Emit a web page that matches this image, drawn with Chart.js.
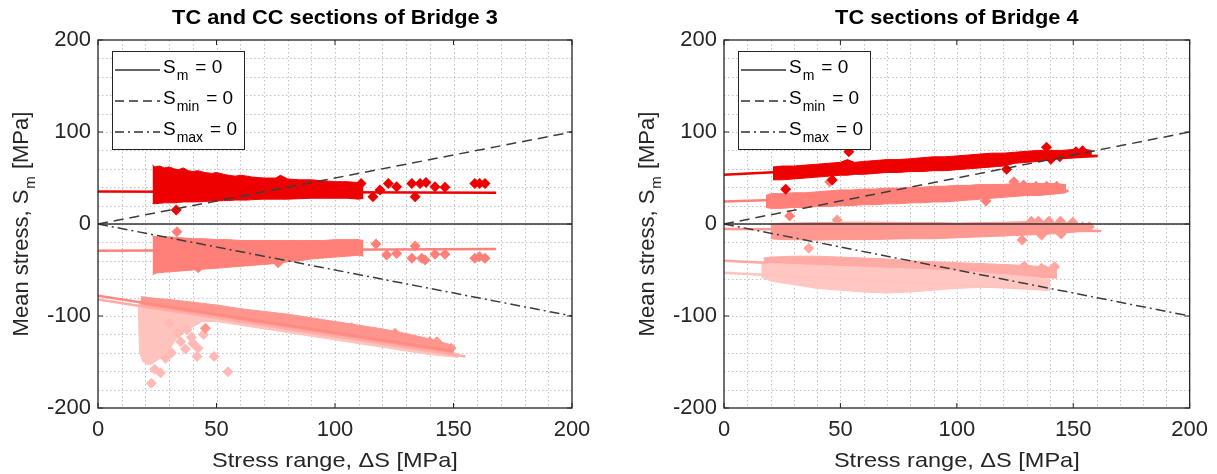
<!DOCTYPE html>
<html><head><meta charset="utf-8">
<script src="https://cdn.jsdelivr.net/npm/chart.js@4"></script>
<style>
html,body{margin:0;padding:0;background:#fff;}
#wrap{position:relative;width:1217px;height:474px;overflow:hidden;background:#fff;}
canvas{position:absolute;top:0;}
</style></head><body>
<div id="wrap">
<canvas id="c1" width="600" height="474" style="left:0px"></canvas>
<canvas id="c2" width="607" height="474" style="left:610px"></canvas>
</div>
<script>
// ---------------- texts & ticks ----------------
const titleB3 = 'TC and CC sections of Bridge 3';
const titleB4 = 'TC sections of Bridge 4';
const xTitle = 'Stress range, \u0394S [MPa]';
const yTitleMain = 'Mean stress, S';
const yTitleSub = 'm';
const yTitleRest = ' [MPa]';
const xTickValues = [0, 50, 100, 150, 200];
const yTickValues = [-200, -100, 0, 100, 200];
const legendMain = ['S', 'S', 'S'];
const legendSub = ['m', 'min', 'max'];
const legendRest = ['= 0', '= 0', '= 0'];

// ---------------- reference lines ----------------
const refX = [0, 200];
const smZeroY = [0, 0];
const sminZeroY = [0, 100];
const smaxZeroY = [0, -100];

// ---------------- Bridge 3 ----------------
// TC (red) scatter band
const b3Tc_x  = [23, 24, 26, 28, 30, 32, 34, 36, 38, 40, 42, 45, 48, 50, 53, 55, 58, 60, 63, 65, 70, 75, 77, 80, 85, 90, 95, 100, 105, 110, 112];
const b3Tc_hi = [64, 62, 63, 61, 62, 60, 59, 61, 58, 57, 58, 56, 55, 56, 54, 53, 52, 53, 52, 51, 50, 50, 53, 49, 48, 48, 47, 46, 46, 45, 43];
const b3Tc_lo = [22, 22, 22.5, 23, 23, 23, 23.5, 24, 24, 24, 24, 24.5, 25, 25, 25.5, 25.5, 26, 26, 26, 26.5, 27, 27, 27, 27, 27.5, 28, 28, 28, 28, 27, 28];
const b3TcFitX = [0, 168];
const b3TcFitY = [35.3, 34];
const b3TcOutX = [33, 111, 116, 119, 122.5, 126, 132.4, 133.8, 135.9, 138.4, 142.2, 146.4, 159, 161, 163.3];
const b3TcOutY = [15.2, 44, 29.7, 37, 44, 40.6, 44, 29.7, 44, 45, 40.6, 40, 44, 44, 44];
// CC (salmon) scatter band
const b3Cc_x  = [23, 25, 30, 35, 40, 45, 50, 55, 60, 65, 70, 75, 80, 85, 90, 95, 100, 105, 110, 112];
const b3Cc_hi = [-13, -14, -14, -15, -16, -16, -17, -17, -18, -18, -18, -18, -18, -18, -18, -18, -17, -17, -17, -18];
const b3Cc_lo = [-55, -53, -52, -51, -50, -49, -48, -47, -46, -45, -44, -43, -41, -40, -38, -37, -36, -35, -34, -35];
const b3CcFitX = [0, 168];
const b3CcFitY = [-29, -27.2];
const b3CcOutX = [33.3, 42.3, 76, 117.3, 121.8, 126, 132.4, 133.8, 136.6, 138, 142.2, 146.4, 159, 161, 163.3];
const b3CcOutY = [-8.3, -47.5, -42, -21.7, -33.7, -32, -37.3, -24, -37.3, -39, -33, -33, -37.3, -35.5, -37.3];
// lower sloping groups
const b3C_x  = [18, 25, 30, 40, 50, 60, 70, 80, 90, 100, 110, 120, 130, 140, 150];
const b3C_hi = [-79, -81, -82, -85, -88, -92, -95, -98, -102, -106, -110, -114, -119, -125, -132];
const b3C_lo = [-88, -91, -93, -97, -101, -105, -109, -113, -117, -121, -125, -129, -133, -137, -141];
const b3C1FitX = [0, 150];
const b3C1FitY = [-78, -138];
const b3D_x  = [17, 17.5, 19, 21, 23, 25, 27, 29, 31, 33, 36, 40, 44, 50, 60, 70, 80, 90, 100, 110, 120, 130, 140, 152];
const b3D_hi = [-84, -84, -83, -84, -85, -85, -86, -86, -87, -88, -89, -90, -92, -95, -99, -103, -107, -111, -115, -119, -123, -128, -133, -141];
const b3D_lo = [-88, -140, -150, -153, -152, -148, -145, -140, -133, -125, -118, -112, -106, -106, -110, -114, -118, -122, -126, -130, -134, -138, -142, -145];
const b3D1FitX = [0, 155];
const b3D1FitY = [-82, -144];
const b3LowOutX = [22.5, 26.4, 23.9, 54.8, 49, 36.9, 41.8, 42.2, 40, 39.4, 34.9, 30.2, 33.8, 28.5, 31, 37.5, 44.5];
const b3LowOutY = [-173, -161.6, -158, -160.5, -144, -136, -144, -135, -129.7, -123, -128, -108, -118.8, -146, -140, -115, -120];
const b3PeakOutX = [45.3, 97.2, 107, 124.9, 125.3, 131, 140, 143, 149];
const b3PeakOutY = [-113.4, -111, -112.7, -121, -118.8, -126, -128, -128, -135];

// ---------------- Bridge 4 ----------------
const b4A_x  = [21, 25, 30, 35, 40, 45, 50, 53, 56, 60, 65, 70, 75, 80, 85, 90, 95, 100, 105, 110, 115, 120, 125, 130, 135, 140, 145, 150, 155, 158];
const b4A_hi = [62, 63, 63, 64, 65, 66, 67, 70, 67, 68, 69, 70, 70, 71, 72, 73, 73, 74, 75, 76, 77, 77, 78, 79, 80, 80, 80, 81, 81, 80];
const b4A_lo = [48, 48, 49, 50, 51, 52, 53, 53, 54, 54, 55, 56, 56, 57, 57, 58, 58, 59, 60, 61, 62, 63, 66, 67, 68, 70, 71, 72, 73, 74];
const b4AFitX = [0, 160.5];
const b4AFitY = [53.5, 74];
const b4AOutX = [53.6, 26.5, 46.5, 121.4, 138.5, 140.4, 144.2, 151.2, 154];
const b4AOutY = [78.6, 37.7, 47.8, 59.4, 83.3, 70.3, 73, 78.6, 79.7];

const b4B_x  = [18, 20, 25, 30, 35, 40, 45, 50, 55, 60, 65, 70, 75, 80, 85, 90, 95, 100, 105, 110, 115, 120, 125, 130, 135, 140, 147];
const b4B_hi = [31, 33, 33, 34, 34, 35, 36, 37, 37, 38, 38, 39, 39, 40, 40, 41, 41, 42, 42, 43, 43, 43, 44, 44, 44, 44, 43];
const b4B_lo = [18, 17, 17, 18, 18, 19, 19, 20, 20, 21, 21, 22, 22, 23, 23, 24, 24, 25, 26, 27, 28, 29, 30, 31, 31, 32, 34];
const b4BFitX = [0, 148];
const b4BFitY = [24.5, 36];
const b4BOutX = [28.2, 45.4, 124.5, 112.5, 128.7, 134, 138.6, 142.9];
const b4BOutY = [8.7, 46, 46, 25, 42.4, 41, 41, 41];

const b4C_x  = [20, 25, 30, 40, 50, 60, 70, 80, 90, 100, 110, 120, 130, 140, 150, 157];
const b4C_hi = [0, 1, 1, 1.5, 2, 2, 2, 1.5, 1.5, 1, 1.5, 2, 2.5, 2, 1, 0];
const b4C_lo = [-16, -17, -17, -17.5, -17, -17, -16.5, -16, -16, -15, -14, -13, -12, -11, -9, -7];
const b4CFitX = [0, 162];
const b4CFitY = [-5.4, -7.6];
const b4COutX = [48.6, 128, 132, 135, 139.5, 144.5, 149.8, 136.4, 144.8, 156.9, 154];
const b4COutY = [4.3, -17.4, 3, 3, 3, 3, 2, -12, -11, -2.9, -3];

const b4D_x  = [17, 20, 30, 40, 50, 60, 70, 80, 90, 100, 110, 120, 130, 140, 143];
const b4D_hi = [-37, -36, -35, -35, -36, -37, -38, -40, -41, -42, -43, -44, -45, -47, -50];
const b4D_lo = [-48, -49, -50, -51, -52, -53, -54, -55, -55, -56, -56, -57, -57, -58, -58];
const b4DFitX = [0, 143];
const b4DFitY = [-40, -58];
const b4DOutX = [36.4, 129, 137.8, 142, 136.4];
const b4DOutY = [-26.4, -45.6, -50, -46.4, -48];

const b4E_x  = [16, 20, 30, 40, 50, 60, 70, 80, 90, 100, 110, 120, 130, 140];
const b4E_hi = [-44, -43, -44, -45, -46, -47, -48, -49, -50, -51, -53, -55, -57, -60];
const b4E_lo = [-58, -62, -66, -70, -72, -74, -75, -74, -72, -70, -69, -69, -70, -71];
const b4EFitX = [0, 140];
const b4EFitY = [-53, -71.5];

// ---------------- styling ----------------
const FONT = "'Liberation Sans', Arial, Helvetica, sans-serif";
const INK = '#262626';
const RED = '#ee0000';
const SALMON = '#ff8079';

function pts(xs, ys) { return xs.map((x, i) => ({x: x, y: ys[i]})); }
function bandSets(xs, hi, lo, color, order) {
  return [
    {data: pts(xs, hi), borderColor: color, backgroundColor: color, borderWidth: 1, pointRadius: 0, fill: '+1', order: order},
    {data: pts(xs, lo), borderColor: color, backgroundColor: color, borderWidth: 1, pointRadius: 0, fill: false, order: order}
  ];
}
function fitSet(xs, ys, color, order) {
  return {data: pts(xs, ys), borderColor: color, backgroundColor: color, borderWidth: 2.6, pointRadius: 0, fill: false, order: order};
}
function markerSet(xs, ys, color, order) {
  return {data: pts(xs, ys), showLine: false, pointStyle: 'rectRot', pointRadius: 5.5,
    pointBackgroundColor: color, pointBorderColor: color, pointBorderWidth: 0,
    backgroundColor: color, borderColor: color, fill: false, order: order};
}
function refSets() {
  return [
    {data: pts(refX, smZeroY), borderColor: '#333333', borderWidth: 1.5, pointRadius: 0, fill: false, order: 0},
    {data: pts(refX, sminZeroY), borderColor: '#3c3c3c', borderWidth: 1.5, borderDash: [10, 6], pointRadius: 0, fill: false, order: 0},
    {data: pts(refX, smaxZeroY), borderColor: '#3c3c3c', borderWidth: 1.5, borderDash: [10, 4, 2, 4], pointRadius: 0, fill: false, order: 0}
  ];
}
const legendDash = [[], [9, 5], [9, 4, 2, 4]];

function seg(ctx, x1, y1, x2, y2) { ctx.beginPath(); ctx.moveTo(x1, y1); ctx.lineTo(x2, y2); ctx.stroke(); }

function framePlugin(title) {
  return {
    id: 'frame',
    beforeDatasetsDraw(chart) {
      const ctx = chart.ctx, a = chart.chartArea, xs = chart.scales.x, ys = chart.scales.y;
      ctx.save();
      ctx.strokeStyle = 'rgba(120,120,120,0.45)';
      ctx.lineWidth = 1;
      ctx.setLineDash([1.5, 2.5]);
      for (let v = 10; v < 200; v += 10) {
        const px = Math.round(xs.getPixelForValue(v)) + 0.5;
        seg(ctx, px, a.top, px, a.bottom);
      }
      for (let v = -180; v < 200; v += 20) {
        const py = Math.round(ys.getPixelForValue(v)) + 0.5;
        seg(ctx, a.left, py, a.right, py);
      }
      ctx.restore();
    },
    afterDatasetsDraw(chart) {
      const ctx = chart.ctx, a = chart.chartArea, xs = chart.scales.x, ys = chart.scales.y;
      ctx.save();
      ctx.setLineDash([]);
      ctx.strokeStyle = INK;
      ctx.lineWidth = 1.3;
      ctx.strokeRect(a.left, a.top, a.right - a.left, a.bottom - a.top);
      ctx.lineWidth = 1;
      xTickValues.forEach(v => {
        const px = xs.getPixelForValue(v);
        seg(ctx, px, a.bottom, px, a.bottom - 5);
        seg(ctx, px, a.top, px, a.top + 5);
      });
      yTickValues.forEach(v => {
        const py = ys.getPixelForValue(v);
        seg(ctx, a.left, py, a.left + 5, py);
        seg(ctx, a.right, py, a.right - 5, py);
      });
      // legend
      const bx = a.left + 14, by = 51, bw = 132, bh = 98;
      ctx.fillStyle = '#ffffff';
      ctx.fillRect(bx, by, bw, bh);
      ctx.strokeStyle = INK;
      ctx.lineWidth = 1;
      ctx.strokeRect(bx + 0.5, by + 0.5, bw, bh);
      const rows = [70, 101, 132];
      for (let i = 0; i < 3; i++) {
        const ly = rows[i];
        ctx.strokeStyle = '#303030';
        ctx.lineWidth = 1.3;
        ctx.setLineDash(legendDash[i]);
        seg(ctx, a.left + 17, ly, a.left + 62, ly);
        ctx.setLineDash([]);
        ctx.fillStyle = '#000';
        ctx.textAlign = 'left';
        ctx.textBaseline = 'alphabetic';
        let x = a.left + 65;
        ctx.font = '19px ' + FONT;
        ctx.fillText(legendMain[i], x, ly + 2.5);
        x += ctx.measureText(legendMain[i]).width + 1;
        ctx.font = '14px ' + FONT;
        ctx.fillText(legendSub[i], x, ly + 10);
        x += ctx.measureText(legendSub[i]).width + 7;
        ctx.font = '19px ' + FONT;
        ctx.fillText(legendRest[i], x, ly + 2.5);
      }
      ctx.restore();
    },
    afterDraw(chart) {
      const ctx = chart.ctx, a = chart.chartArea;
      const cx = (a.left + a.right) / 2, cy = (a.top + a.bottom) / 2;
      ctx.save();
      // title
      ctx.fillStyle = '#000';
      ctx.textAlign = 'center';
      ctx.textBaseline = 'alphabetic';
      ctx.font = 'bold 20px ' + FONT;
      ctx.save(); ctx.translate(cx, 24); ctx.scale(1.09, 1); ctx.fillText(title, 0, 0); ctx.restore();
      // x title
      ctx.fillStyle = INK;
      ctx.font = '21px ' + FONT;
      ctx.save(); ctx.translate(cx, 467); ctx.scale(1.12, 1); ctx.fillText(xTitle, 0, 0); ctx.restore();
      // y title (rotated, with subscript)
      ctx.save();
      ctx.translate(a.left - 70, cy);
      ctx.rotate(-Math.PI / 2);
      ctx.textAlign = 'left';
      ctx.font = '22px ' + FONT;
      const w1 = ctx.measureText(yTitleMain).width;
      const w3 = ctx.measureText(yTitleRest).width;
      ctx.font = '15px ' + FONT;
      const w2 = ctx.measureText(yTitleSub).width;
      let x = -(w1 + w2 + w3 + 2) / 2;
      ctx.font = '22px ' + FONT; ctx.fillText(yTitleMain, x, 0); x += w1 + 1;
      ctx.font = '15px ' + FONT; ctx.fillText(yTitleSub, x, 7); x += w2 + 1;
      ctx.font = '22px ' + FONT; ctx.fillText(yTitleRest, x, 0);
      ctx.restore();
      ctx.restore();
    }
  };
}

function makeChart(id, datasets, title, yWidth, padRight) {
  return new Chart(document.getElementById(id), {
    type: 'line',
    data: {datasets: datasets},
    options: {
      responsive: false, animation: false, devicePixelRatio: 1,
      layout: {padding: {top: 40, right: padRight, left: 0, bottom: 0}},
      elements: {line: {tension: 0}},
      plugins: {legend: {display: false}, tooltip: {enabled: false}, title: {display: false}},
      scales: {
        x: {
          type: 'linear', min: 0, max: 200,
          afterFit: s => { s.height = 66; },
          afterBuildTicks: s => { s.ticks = xTickValues.map(v => ({value: v})); },
          grid: {display: false, drawTicks: false}, border: {display: false},
          ticks: {font: {family: FONT, size: 22}, color: INK, padding: 9, maxRotation: 0, autoSkip: false, callback: v => String(v)}
        },
        y: {
          type: 'linear', min: -200, max: 200,
          afterFit: s => { s.width = yWidth; },
          afterBuildTicks: s => { s.ticks = yTickValues.map(v => ({value: v})); },
          grid: {display: false, drawTicks: false}, border: {display: false},
          ticks: {font: {family: FONT, size: 22}, color: INK, padding: 7, autoSkip: false, callback: v => String(v)}
        }
      }
    },
    plugins: [framePlugin(title)]
  });
}

const ds1 = [
  ...refSets(),
  fitSet(b3TcFitX, b3TcFitY, RED, 1),
  fitSet(b3CcFitX, b3CcFitY, SALMON, 1),
  fitSet(b3C1FitX, b3C1FitY, '#ff8a82', 1),
  fitSet(b3D1FitX, b3D1FitY, '#ffaca6', 1),
  markerSet(b3TcOutX, b3TcOutY, RED, 2),
  markerSet(b3CcOutX, b3CcOutY, SALMON, 2),
  markerSet(b3PeakOutX, b3PeakOutY, '#ff958d', 2),
  ...bandSets(b3Tc_x, b3Tc_hi, b3Tc_lo, RED, 3),
  ...bandSets(b3Cc_x, b3Cc_hi, b3Cc_lo, SALMON, 3),
  ...bandSets(b3C_x, b3C_hi, b3C_lo, '#ff958d', 3),
  markerSet(b3LowOutX, b3LowOutY, '#ffbab5', 4),
  ...bandSets(b3D_x, b3D_hi, b3D_lo, '#ffc3be', 5)
];

const ds2 = [
  ...refSets(),
  fitSet(b4AFitX, b4AFitY, RED, 1),
  fitSet(b4BFitX, b4BFitY, SALMON, 1),
  fitSet(b4CFitX, b4CFitY, '#ff9890', 1),
  fitSet(b4EFitX, b4EFitY, '#ffc3bf', 1),
  markerSet(b4AOutX, b4AOutY, RED, 2),
  markerSet(b4BOutX, b4BOutY, SALMON, 2),
  markerSet(b4COutX, b4COutY, '#ff9890', 2),
  ...bandSets(b4A_x, b4A_hi, b4A_lo, RED, 3),
  ...bandSets(b4B_x, b4B_hi, b4B_lo, SALMON, 3),
  ...bandSets(b4C_x, b4C_hi, b4C_lo, '#ff9890', 3),
  ...bandSets(b4E_x, b4E_hi, b4E_lo, '#ffc6c2', 4),
  fitSet(b4DFitX, b4DFitY, '#ffa8a2', 5),
  markerSet(b4DOutX, b4DOutY, '#ffa8a2', 5),
  ...bandSets(b4D_x, b4D_hi, b4D_lo, '#ffaba5', 6)
];

makeChart('c1', ds1, titleB3, 98, 28);
makeChart('c2', ds2, titleB4, 114, 20);
</script>
</body></html>
